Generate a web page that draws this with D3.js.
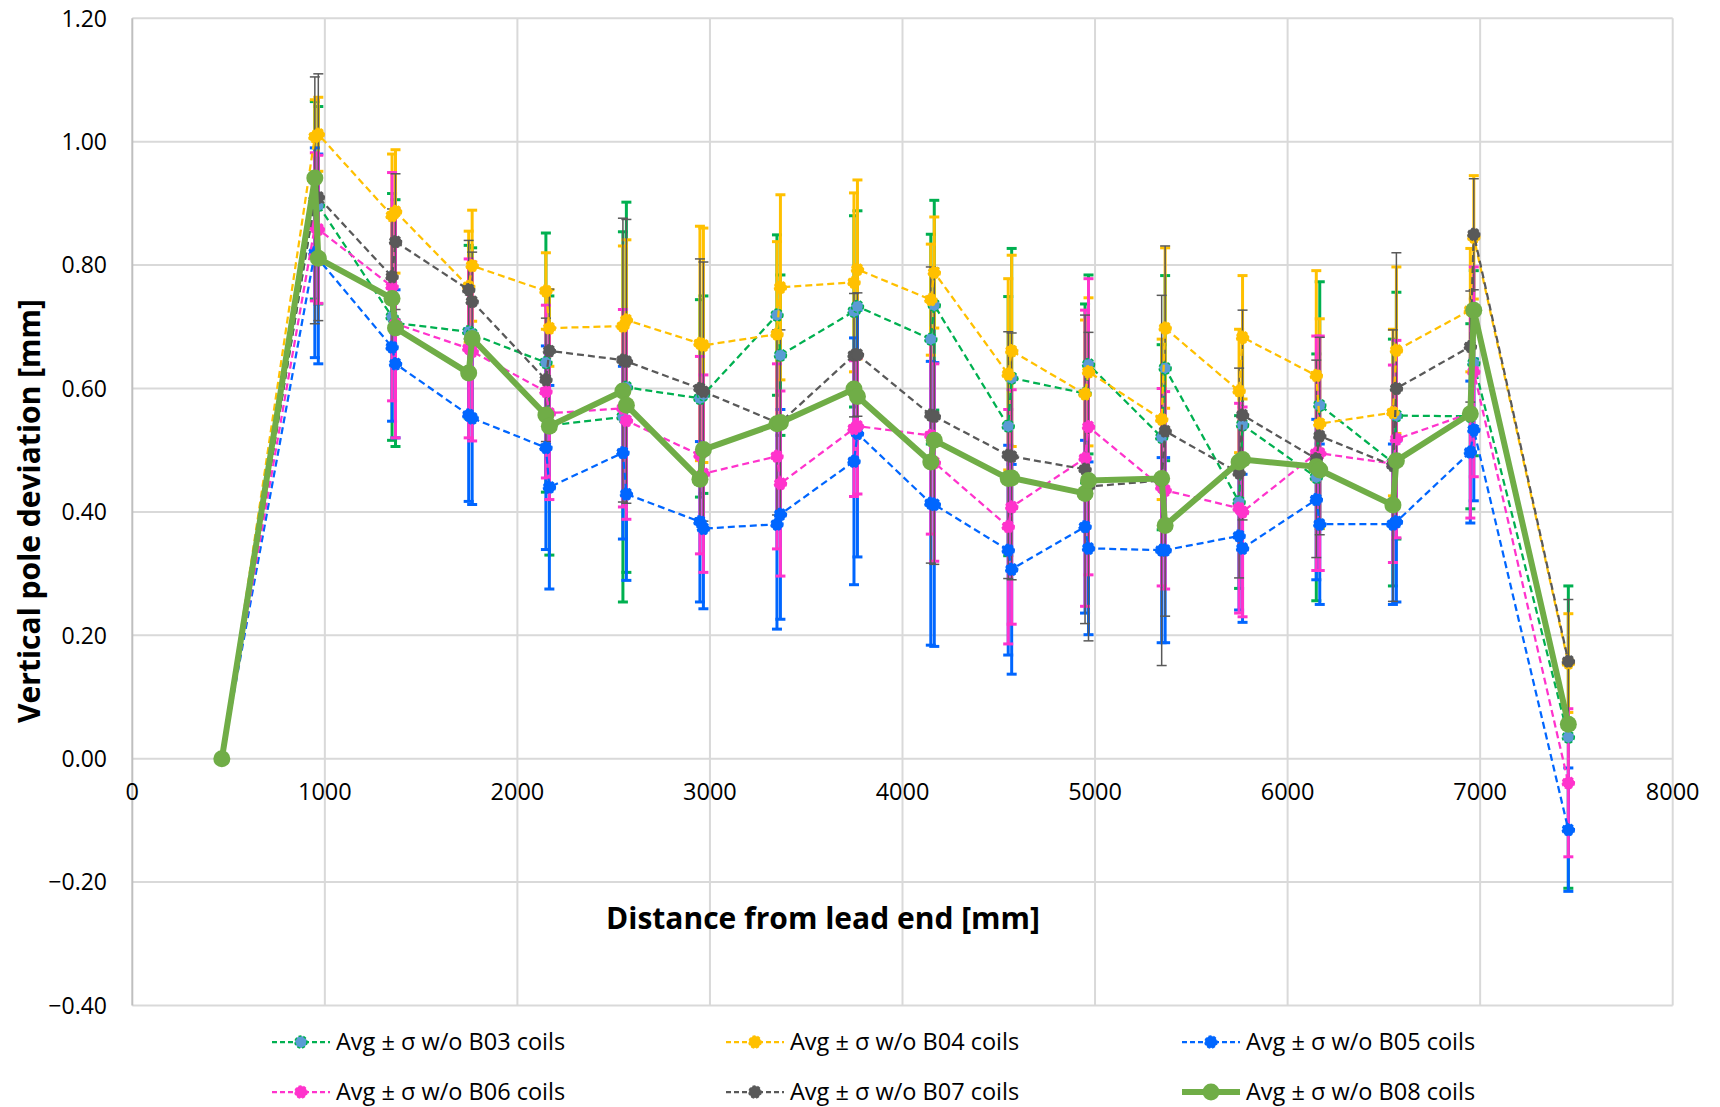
<!DOCTYPE html>
<html>
<head>
<meta charset="utf-8">
<script src="https://cdn.jsdelivr.net/npm/d3@7"></script>
<style>
  body { margin: 0; background: #fff; }
  text { font-family: "Open Sans", Lato, sans-serif; fill: #000; }
</style>
</head>
<body>
<svg></svg>
<script>
// positions along the magnet (two poles per station)
let xs = [465, 948, 966, 1349, 1367, 1747, 1765, 2148, 2166, 2548, 2566, 2948, 2966, 3348, 3366,
          3748, 3766, 4147, 4165, 4549, 4567, 4948, 4966, 5346, 5364, 5748, 5766, 6149, 6167,
          6547, 6565, 6949, 6967, 7458];

let b03 = [0, 0.905, 0.897, 0.716, 0.706, 0.692, 0.688, 0.642, 0.540, 0.554, 0.602, 0.584, 0.590, 0.719, 0.654,
           0.725, 0.733, 0.680, 0.735, 0.539, 0.617, 0.592, 0.639, 0.521, 0.633, 0.416, 0.541, 0.456, 0.573,
           0.480, 0.556, 0.555, 0.641, 0.035];
let b04 = [0, 1.008, 1.012, 0.880, 0.887, 0.765, 0.799, 0.758, 0.698, 0.701, 0.711, 0.673, 0.670, 0.688, 0.764,
           0.772, 0.793, 0.744, 0.788, 0.623, 0.661, 0.591, 0.627, 0.550, 0.698, 0.596, 0.683, 0.621, 0.543,
           0.561, 0.662, 0.727, 0.845, 0.155];
let b05 = [0, 0.820, 0.810, 0.667, 0.640, 0.557, 0.552, 0.504, 0.440, 0.496, 0.429, 0.384, 0.373, 0.380, 0.396,
           0.482, 0.527, 0.414, 0.412, 0.338, 0.307, 0.376, 0.341, 0.338, 0.338, 0.361, 0.341, 0.420, 0.380,
           0.380, 0.384, 0.497, 0.533, -0.115];
let b06 = [0, 0.862, 0.858, 0.765, 0.705, 0.665, 0.660, 0.595, 0.560, 0.568, 0.548, 0.492, 0.462, 0.490, 0.446,
           0.535, 0.539, 0.524, 0.480, 0.376, 0.408, 0.487, 0.538, 0.440, 0.435, 0.406, 0.400, 0.495, 0.495,
           0.478, 0.518, 0.560, 0.627, -0.039];
let b07 = [0, 0.905, 0.910, 0.781, 0.838, 0.760, 0.741, 0.614, 0.661, 0.646, 0.644, 0.600, 0.595, 0.545, 0.545,
           0.654, 0.655, 0.557, 0.555, 0.492, 0.490, 0.469, 0.441, 0.451, 0.531, 0.463, 0.557, 0.486, 0.523,
           0.475, 0.600, 0.668, 0.850, 0.158];
let b08 = [0, 0.941, 0.811, 0.746, 0.698, 0.625, 0.681, 0.557, 0.539, 0.596, 0.573, 0.453, 0.501, 0.543, 0.545,
           0.599, 0.587, 0.481, 0.516, 0.454, 0.455, 0.430, 0.451, 0.454, 0.378, 0.481, 0.485, 0.473, 0.468,
           0.411, 0.483, 0.559, 0.727, 0.056];

// sigma per station (465, 960, 1360 ... 6960, 7460)
let sd03 = [0, 0.16, 0.20, 0.14, 0.21, 0.30, 0.16, 0.13, 0.155, 0.17, 0.21, 0.145, 0.15, 0.14, 0.20, 0.20, 0.15, 0.245];
let sd04 = [0, 0.06, 0.10, 0.09, 0.062, 0.13, 0.19, 0.15, 0.145, 0.09, 0.155, 0.12, 0.13, 0.10, 0.17, 0.135, 0.10, 0.08];
let sd05 = [0, 0.17, 0.12, 0.14, 0.165, 0.14, 0.13, 0.17, 0.20, 0.23, 0.17, 0.14, 0.15, 0.12, 0.13, 0.13, 0.115, 0.10];
let sd06 = [0, 0.12, 0.185, 0.145, 0.14, 0.16, 0.16, 0.15, 0.11, 0.16, 0.19, 0.24, 0.16, 0.17, 0.19, 0.16, 0.17, 0.12];
let sd07 = [0, 0.20, 0.11, 0.08, 0.10, 0.23, 0.21, 0.15, 0.10, 0.24, 0.20, 0.25, 0.30, 0.17, 0.16, 0.22, 0.09, 0.10];

let names = ['Avg ± σ w/o B03 coils', 'Avg ± σ w/o B04 coils', 'Avg ± σ w/o B05 coils',
             'Avg ± σ w/o B06 coils', 'Avg ± σ w/o B07 coils', 'Avg ± σ w/o B08 coils'];
let xTicks = [0, 1000, 2000, 3000, 4000, 5000, 6000, 7000, 8000];
let yTicks = [-0.4, -0.2, 0, 0.2, 0.4, 0.6, 0.8, 1.0, 1.2];

let series = [
  { name: names[0], ys: b03, sd: sd03, color: '#00B050', fill: '#5B9BD5', thick: false },
  { name: names[1], ys: b04, sd: sd04, color: '#FFC000', fill: '#FFC000', thick: false },
  { name: names[2], ys: b05, sd: sd05, color: '#0066FF', fill: '#0066FF', thick: false },
  { name: names[3], ys: b06, sd: sd06, color: '#FF33CC', fill: '#FF33CC', thick: false },
  { name: names[4], ys: b07, sd: sd07, color: '#595959', fill: '#595959', thick: false },
  { name: names[5], ys: b08, sd: null, color: '#70AD47', fill: '#70AD47', thick: true }
];

let width = 1720;
let height = 1107;

let x = d3.scaleLinear().domain([0, 8000]).range([132.3, 1672.7]);
let y = d3.scaleLinear().domain([-0.4, 1.2]).range([1005.5, 18.3]);

let svg = d3.select('svg')
    .attr('width', width)
    .attr('height', height);

svg.append('rect')
    .attr('width', width)
    .attr('height', height)
    .attr('fill', '#fff');

// grid
svg.append('g')
    .selectAll('line')
    .data(yTicks)
    .enter()
    .append('line')
        .attr('x1', x(0))
        .attr('x2', x(8000))
        .attr('y1', d => y(d))
        .attr('y2', d => y(d))
        .attr('stroke', '#d9d9d9')
        .attr('stroke-width', 2);

svg.append('g')
    .selectAll('line')
    .data(xTicks)
    .enter()
    .append('line')
        .attr('x1', d => x(d))
        .attr('x2', d => x(d))
        .attr('y1', y(1.2))
        .attr('y2', y(-0.4))
        .attr('stroke', d => d === 0 ? '#bfbfbf' : '#d9d9d9')
        .attr('stroke-width', 2);

// tick labels
svg.append('g')
    .selectAll('text')
    .data(yTicks)
    .enter()
    .append('text')
        .attr('x', 107)
        .attr('y', d => y(d))
        .attr('dy', '0.36em')
        .attr('text-anchor', 'end')
        .style('font-size', '23px')
        .text(d => d3.format('.2f')(d));

svg.append('g')
    .selectAll('text')
    .data(xTicks)
    .enter()
    .append('text')
        .attr('x', d => x(d))
        .attr('y', 800)
        .attr('text-anchor', 'middle')
        .style('font-size', '23.5px')
        .text(d => d);

// axis titles
svg.append('text')
    .attr('x', 823)
    .attr('y', 929)
    .attr('text-anchor', 'middle')
    .style('font-size', '30px')
    .style('font-weight', 'bold')
    .text('Distance from lead end [mm]');

svg.append('text')
    .attr('transform', 'translate(40 511) rotate(-90)')
    .attr('text-anchor', 'middle')
    .style('font-size', '30px')
    .style('font-weight', 'bold')
    .text('Vertical pole deviation [mm]');

// station index of each point
let station = i => i === 0 ? 0 : (i === xs.length - 1 ? 17 : Math.ceil(i / 2));

// error bars
series.filter(s => s.sd).forEach(s => {
    let bars = xs.map((xv, i) => ({ x: xv, y: s.ys[i], e: s.sd[station(i)] }))
        .filter(d => d.e > 0);
    let w = s.color === '#595959' ? 1.5 : 3;
    let g = svg.append('g');
    g.selectAll('.bar')
        .data(bars)
        .enter()
        .append('line')
            .attr('x1', d => x(d.x))
            .attr('x2', d => x(d.x))
            .attr('y1', d => y(d.y - d.e))
            .attr('y2', d => y(d.y + d.e))
            .attr('stroke', s.color)
            .attr('stroke-width', w);
    [-1, 1].forEach(sign => {
        g.selectAll('.cap' + sign)
            .data(bars)
            .enter()
            .append('line')
                .attr('x1', d => x(d.x) - 5)
                .attr('x2', d => x(d.x) + 5)
                .attr('y1', d => y(d.y + sign * d.e))
                .attr('y2', d => y(d.y + sign * d.e))
                .attr('stroke', s.color)
                .attr('stroke-width', w);
    });
});

// lines and markers
let line = d3.line()
    .x(d => x(d[0]))
    .y(d => y(d[1]));

series.forEach(s => {
    let pts = xs.map((xv, i) => [xv, s.ys[i]]);
    svg.append('path')
        .attr('d', line(pts))
        .attr('fill', 'none')
        .attr('stroke', s.color)
        .attr('stroke-width', s.thick ? 6 : 2.25)
        .attr('stroke-dasharray', s.thick ? null : '7,4')
        .attr('stroke-linejoin', 'round');
    svg.append('g')
        .selectAll('circle')
        .data(pts)
        .enter()
        .append('circle')
            .attr('cx', d => x(d[0]))
            .attr('cy', d => y(d[1]))
            .attr('r', s.thick ? 8.5 : 6)
            .attr('fill', s.fill)
            .attr('stroke', s.color)
            .attr('stroke-width', s.thick ? 0 : 1.5)
            .attr('stroke-dasharray', s.thick ? null : '3,2');
});

// legend
let legendX = [272, 726, 1182];
let legendY = [1042, 1092];

let legend = svg.append('g')
    .selectAll('g')
    .data(series)
    .enter()
    .append('g')
        .attr('transform', (d, i) => `translate(${legendX[i % 3]} ${legendY[Math.floor(i / 3)]})`);

legend.append('line')
    .attr('x1', 0)
    .attr('x2', 58)
    .attr('stroke', d => d.color)
    .attr('stroke-width', d => d.thick ? 6 : 2.25)
    .attr('stroke-dasharray', d => d.thick ? null : '5,3');

legend.append('circle')
    .attr('cx', 29)
    .attr('r', d => d.thick ? 8.5 : 6)
    .attr('fill', d => d.fill)
    .attr('stroke', d => d.color)
    .attr('stroke-width', d => d.thick ? 0 : 1.5)
    .attr('stroke-dasharray', d => d.thick ? null : '3,2');

legend.append('text')
    .attr('x', 64)
    .attr('dy', '0.36em')
    .style('font-size', '23.5px')
    .text(d => d.name);
</script>
</body>
</html>
